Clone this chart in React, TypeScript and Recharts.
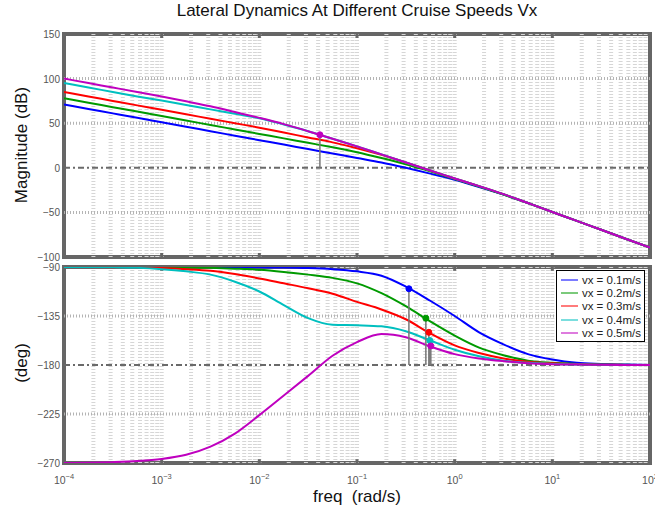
import { LineChart, Line, XAxis, YAxis, ReferenceLine, ReferenceArea, ReferenceDot, Legend } from "recharts";

// frequency grid, rad/s (quarter decades)
const freq = [
  1e-4, 1.78e-4, 3.16e-4, 5.62e-4, 1e-3, 1.78e-3, 3.16e-3, 5.62e-3, 1e-2, 0.0178, 0.0316, 0.0562, 0.1,
  0.178, 0.316, 0.562, 1, 1.78, 3.16, 5.62, 10, 17.8, 31.6, 56.2, 100,
];

const speeds = ["vx = 0.1m/s", "vx = 0.2m/s", "vx = 0.3m/s", "vx = 0.4m/s", "vx = 0.5m/s"];

// magnitude (dB)
const magVx01 = [71, 66, 61, 56, 51, 46, 41, 36, 31, 26, 21, 16, 11, 6, 0, -6.5, -13.5, -21.5, -30, -39.5, -49.5, -59.5, -69.5, -79.5, -89.5];
const magVx02 = [78, 73, 68, 63, 58, 53, 48, 43, 38, 33, 28, 23, 17.5, 11, 4, -4, -12.5, -21, -30, -39.5, -49.5, -59.5, -69.5, -79.5, -89.5];
const magVx03 = [85, 80, 75, 70, 65, 60, 55, 50, 45, 39.5, 34, 28.5, 22, 14.5, 6, -3, -12, -20.5, -29.5, -39.5, -49.5, -59.5, -69.5, -79.5, -89.5];
const magVx04 = [95, 90, 85, 80, 75.5, 70.5, 65.5, 60.5, 55.5, 48.5, 41, 32.5, 24, 15, 6, -3, -12, -20.5, -29.5, -39.5, -49.5, -59.5, -69.5, -79.5, -89.5];
const magVx05 = [100, 95, 90, 85, 80, 74.5, 69, 62.5, 56, 49, 41, 32.5, 24, 15, 6, -3, -12, -20.5, -29.5, -39.5, -49.5, -59.5, -69.5, -79.5, -89.5];

// phase (deg)
const phaseVx01 = [-90, -90, -90, -90, -90, -90, -90, -90.2, -90.3, -90.5, -91, -92, -94, -98, -108, -121, -135, -150, -161, -170, -175, -178, -179, -179.6, -180];
const phaseVx02 = [-90, -90, -90, -90, -90.2, -90.4, -90.8, -91.5, -92.5, -94.5, -97, -100, -105, -114, -126, -140, -153, -164, -171, -176, -178, -179, -179.5, -179.8, -180];
const phaseVx03 = [-90, -90, -90.2, -90.5, -91, -92, -93.5, -96.5, -100.5, -105, -109.5, -114.5, -122, -129, -138, -151, -162, -169, -174, -177, -178.5, -179.3, -179.7, -179.9, -180];
const phaseVx04 = [-90, -90, -90.3, -90.8, -92, -94, -97, -103.5, -112.5, -125, -137, -143, -143.5, -144.5, -149, -157.5, -166, -172, -176, -178, -179, -179.5, -179.8, -180, -180];
const phaseVx05 = [-270, -269.8, -269.2, -268.2, -266.3, -262.5, -255, -243, -226, -208, -190, -171.5, -159, -151.5, -154.5, -163, -170, -174, -176.5, -178.3, -179.2, -179.6, -179.8, -180, -180];

// margin markers
const magMarkerFreq = [0.0417];
const magMarkerDb = [37];
const phaseMarkerFreq = [0.34, 0.507, 0.544, 0.557, 0.57];
const phaseMarkerDeg = [-110, -137, -150, -157.5, -162.5];

const freqTicks = [1e-4, 1e-3, 1e-2, 1e-1, 1, 10, 100];
const magTicks = [-100, -50, 0, 50, 100, 150];
const phaseTicks = [-270, -225, -180, -135, -90];

const colors = ["#0000ff", "#009a00", "#ff0000", "#00bfbf", "#bf00bf"];
const FONT = "'Liberation Sans', Arial, Helvetica, sans-serif";

const magSeries = [magVx01, magVx02, magVx03, magVx04, magVx05];
const phaseSeries = [phaseVx01, phaseVx02, phaseVx03, phaseVx04, phaseVx05];

const magData = freq.map((f, i) => {
  const row: Record<string, number> = { f };
  magSeries.forEach((s, k) => (row[`s${k}`] = s[i]));
  return row;
});
const phaseData = freq.map((f, i) => {
  const row: Record<string, number> = { f };
  phaseSeries.forEach((s, k) => (row[`s${k}`] = s[i]));
  return row;
});

const minorGrid = freqTicks.slice(0, -1).flatMap((d) => [1, 2, 3, 4, 5, 6, 7, 8, 9].map((m) => m * d)).slice(1);

const fmt = (v: number) => (v < 0 ? "\u2212" + Math.abs(v) : String(v));

const YTick = ({ x, y, payload }: any) => (
  <text x={x - 2} y={y + 4} textAnchor="end" fontSize={10} fill="#555" fontFamily={FONT}>
    {fmt(payload.value)}
  </text>
);

const FreqTick = ({ x, y, payload }: any) => {
  const e = Math.round(Math.log10(payload.value));
  return (
    <text x={x} y={y + 19} textAnchor="middle" fontSize={10.5} fill="#555" fontFamily={FONT}>
      10
      <tspan dy={-5} fontSize={7.5}>
        {fmt(e)}
      </tspan>
    </text>
  );
};

const LegendBox = ({ payload }: any) => (
  <div
    style={{
      border: "1px solid #000",
      background: "#fff",
      padding: "2px 3px 1px 4px",
      fontFamily: FONT,
      fontSize: 11.5,
      color: "#222",
    }}
  >
    {(payload || []).map((p: any) => (
      <div key={p.value} style={{ display: "flex", alignItems: "center", height: 13.4 }}>
        <svg width={28} height={6} style={{ marginRight: 4 }}>
          <line x1={0} y1={3} x2={28} y2={3} stroke={colors[speeds.indexOf(p.value)]} strokeWidth={1.6} strokeOpacity={0.65} />
        </svg>
        <span style={{ whiteSpace: "nowrap" }}>{p.value}</span>
      </div>
    ))}
  </div>
);

const gridLines = (zeroY: number, yTicks: number[]) => [
  ...minorGrid.map((v) => (
    <ReferenceLine key={`v${v}`} x={v} stroke="#d6d6d6" strokeWidth={4} strokeDasharray="1 2" />
  )),
  ...yTicks
    .filter((t) => t !== zeroY)
    .map((t) => <ReferenceLine key={`h${t}`} y={t} stroke="#b4b4b4" strokeWidth={3} strokeDasharray="1 2" />),
  <ReferenceLine key="zero" y={zeroY} stroke="#6a6a6a" strokeWidth={2} strokeDasharray="6 3 2 3" />,
];

// short inward tick marks on the top and bottom of the frame
const frameTicks = (top: number, bottom: number, len: number) =>
  freqTicks.slice(1, -1).flatMap((d) => [
    <ReferenceLine key={`tt${d}`} segment={[{ x: d, y: top }, { x: d, y: top - len }]} stroke="#666" strokeWidth={3} />,
    <ReferenceLine key={`tb${d}`} segment={[{ x: d, y: bottom }, { x: d, y: bottom + len }]} stroke="#666" strokeWidth={3} />,
  ]);

const App = () => {
  return (
    <div style={{ position: "absolute", left: 0, top: 0, width: 655, height: 510, background: "#fff", fontFamily: FONT }}>
      <div style={{ position: "absolute", left: 64, top: 1, width: 586, textAlign: "center", fontSize: 17, color: "#111" }}>
        Lateral Dynamics At Different Cruise Speeds Vx
      </div>

      <div style={{ position: "absolute", left: 0, top: 0 }}>
        <LineChart width={655} height={262} data={magData} margin={{ top: 34, right: 5, bottom: 5, left: 4 }}>
          <XAxis dataKey="f" type="number" scale="log" domain={[1e-4, 100]} ticks={freqTicks} hide allowDataOverflow />
          <YAxis
            type="number"
            domain={[-100, 150]}
            ticks={magTicks}
            interval={0}
            width={60}
            axisLine={false}
            tickLine={false}
            tickSize={0}
            tick={<YTick />}
            allowDataOverflow
          />
          {gridLines(0, magTicks.slice(1, -1))}
          {frameTicks(150, -100, 4.5)}
          <ReferenceArea x1={1e-4} x2={100} y1={-100} y2={150} fill="none" stroke="#666" strokeWidth={4} />
          {speeds.map((s, k) => (
            <Line key={s} type="monotone" dataKey={`s${k}`} name={s} stroke={colors[k]} strokeWidth={2} dot={false} isAnimationActive={false} />
          ))}
          {magMarkerFreq.map((f, i) => (
            <ReferenceLine key={`ml${i}`} segment={[{ x: f, y: magMarkerDb[i] }, { x: f, y: 0 }]} stroke="#777" strokeWidth={1.5} />
          ))}
          {magMarkerFreq.map((f, i) => (
            <ReferenceDot key={`md${i}`} x={f} y={magMarkerDb[i]} r={3} fill={colors[4]} stroke={colors[4]} />
          ))}
        </LineChart>
      </div>

      <div style={{ position: "absolute", left: 0, top: 262 }}>
        <LineChart width={655} height={248} data={phaseData} margin={{ top: 5, right: 5, bottom: 17, left: 4 }}>
          <XAxis
            dataKey="f"
            type="number"
            scale="log"
            domain={[1e-4, 100]}
            ticks={freqTicks}
            interval={0}
            height={30}
            axisLine={false}
            tickLine={false}
            tickSize={0}
            tick={<FreqTick />}
            allowDataOverflow
          />
          <YAxis
            type="number"
            domain={[-270, -90]}
            ticks={phaseTicks}
            interval={0}
            width={60}
            axisLine={false}
            tickLine={false}
            tickSize={0}
            tick={<YTick />}
            allowDataOverflow
          />
          {gridLines(-180, phaseTicks.slice(1, -1))}
          {frameTicks(-90, -270, 3.5)}
          <ReferenceArea x1={1e-4} x2={100} y1={-270} y2={-90} fill="none" stroke="#666" strokeWidth={4} />
          {speeds.map((s, k) => (
            <Line key={s} type="monotone" dataKey={`s${k}`} name={s} stroke={colors[k]} strokeWidth={2} dot={false} isAnimationActive={false} />
          ))}
          {phaseMarkerFreq.map((f, i) => (
            <ReferenceLine key={`pl${i}`} segment={[{ x: f, y: phaseMarkerDeg[i] }, { x: f, y: -180 }]} stroke="#777" strokeWidth={1.5} />
          ))}
          {phaseMarkerFreq.map((f, i) => (
            <ReferenceDot key={`pd${i}`} x={f} y={phaseMarkerDeg[i]} r={3} fill={colors[i]} stroke={colors[i]} />
          ))}
          <Legend
            layout="vertical"
            align="center"
            verticalAlign="middle"
            content={<LegendBox />}
            wrapperStyle={{ position: "absolute", left: 556, top: 8, width: 89, height: 70 }}
          />
        </LineChart>
      </div>

      <div
        style={{
          position: "absolute",
          left: -78,
          top: 135,
          width: 200,
          lineHeight: "20px",
          textAlign: "center",
          fontSize: 17,
          color: "#111",
          transform: "rotate(-90deg)",
        }}
      >
        Magnitude (dB)
      </div>
      <div
        style={{
          position: "absolute",
          left: -78,
          top: 353,
          width: 200,
          lineHeight: "20px",
          textAlign: "center",
          fontSize: 17,
          color: "#111",
          transform: "rotate(-90deg)",
        }}
      >
        (deg)
      </div>
      <div
        style={{
          position: "absolute",
          left: 64,
          top: 487,
          width: 586,
          lineHeight: "20px",
          textAlign: "center",
          fontSize: 17,
          color: "#111",
          whiteSpace: "pre",
        }}
      >
        {"freq  (rad/s)"}
      </div>
    </div>
  );
};

export default App;
